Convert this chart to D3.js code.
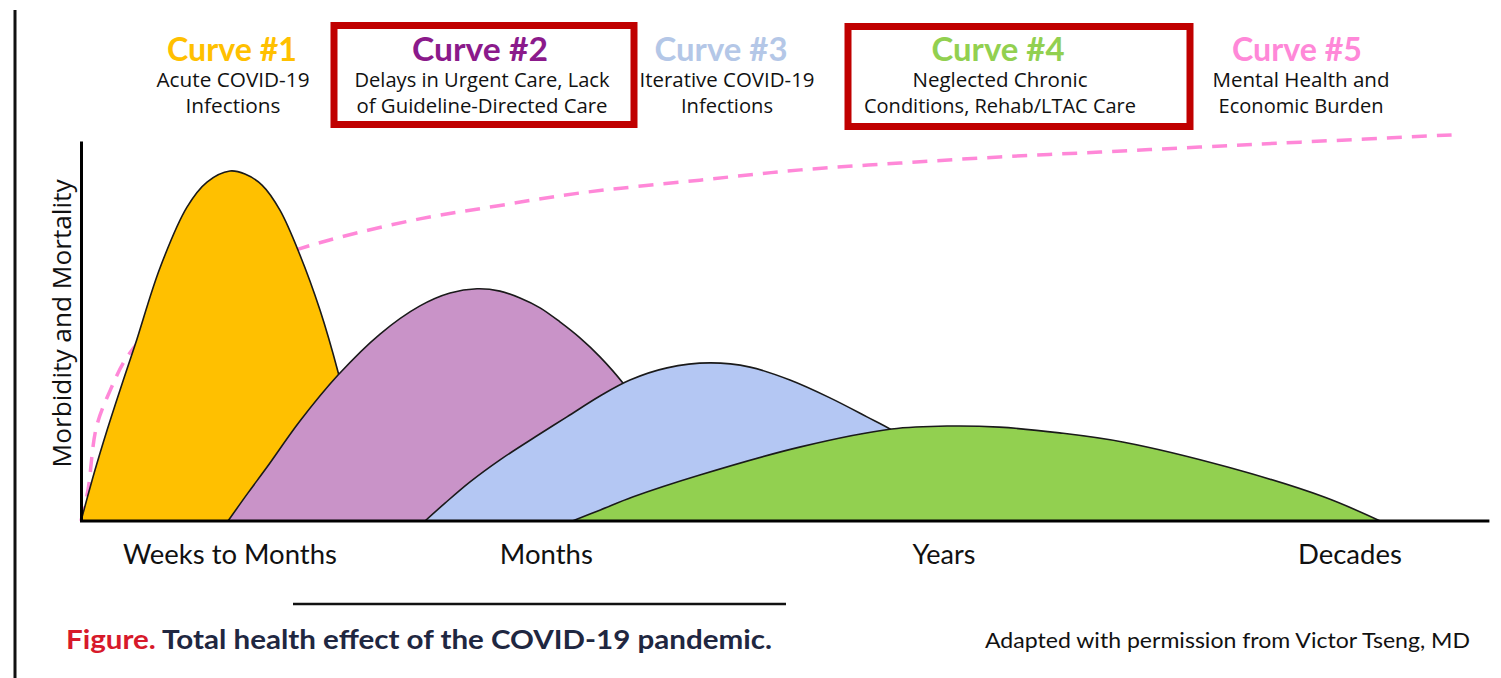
<!DOCTYPE html>
<html>
<head>
<meta charset="utf-8">
<script src="https://cdn.jsdelivr.net/npm/d3@7"></script>
<style>
  html, body { margin: 0; padding: 0; background: #fff; }
  svg { display: block; }
</style>
</head>
<body>
<svg id="chart" width="1501" height="678"></svg>
<script>
// ---------------- DATA ----------------
// x: relative time (0 = onset), y: relative morbidity & mortality (0..100)
const curve1 = [[0,0],[1.0,13.4],[1.86,23.9],[2.79,34.5],[3.86,46.3],[5.64,66.6],[7.57,82.6],[9.0,89.2],[10.64,92.1],[11.71,91.3],[12.93,88.4],[14.21,81.8],[15.64,70.0],[17.07,55.5],[18.36,39.2],[19.36,23.9],[20.36,8.2],[21.0,0]];
const curve2 = [[10.5,0],[11.93,7.4],[13.29,14.2],[15.64,26.3],[18.36,38.4],[21.36,49.2],[24.21,56.6],[26.36,60.0],[28.29,61.1],[29.93,60.5],[31.36,58.7],[32.79,56.1],[34.21,52.4],[35.64,48.2],[37.07,43.2],[38.71,36.3],[40.29,27.9],[41.71,17.4],[43.14,5.5],[43.71,0]];
const curve3 = [[24.57,0],[26.0,4.7],[27.79,10.3],[29.93,16.1],[32.43,22.1],[34.71,27.4],[37.07,32.9],[39.21,37.1],[41.86,40.3],[44.93,41.6],[47.79,40.5],[50.64,37.1],[53.5,32.4],[56.14,27.4],[57.93,23.9],[59.93,18.7],[62.07,12.1],[63.86,5.5],[65.29,0]];
const curve4 = [[35.1,0],[37.1,2.9],[39.4,6.3],[44.2,12.1],[51.4,19.5],[57.9,24.2],[62.1,25.0],[65.6,24.7],[69.9,23.2],[74.4,20.8],[81.9,14.2],[88.8,6.3],[92.8,0]];
const curve5 = [[0,0],[0.5,8.2],[1.1,24.7],[2.1,34.5],[3.3,43.2],[5.6,52.9],[8.5,60.8],[12.1,67.4],[15.3,71.3],[18.5,74.7],[24.2,79.5],[29.7,82.9],[35.6,86.3],[44.2,89.7],[51.4,92.4],[58.5,94.2],[65.6,95.8],[72.8,97.1],[79.9,98.4],[87.1,99.7],[97.9,101.6]];

const curveTitles = ["Curve #1", "Curve #2", "Curve #3", "Curve #4", "Curve #5"];
const curveDescriptions = [
  ["Acute COVID-19", "Infections"],
  ["Delays in Urgent Care, Lack", "of Guideline-Directed Care"],
  ["Iterative COVID-19", "Infections"],
  ["Neglected Chronic", "Conditions, Rehab/LTAC Care"],
  ["Mental Health and", "Economic Burden"]
];
const highlighted = [false, true, false, true, false];

const xTickLabels = ["Weeks to Months", "Months", "Years", "Decades"];
const xTickValues = [10.6, 33.2, 61.6, 90.6];
const yAxisLabel = "Morbidity and Mortality";
const captionLead = "Figure.";
const captionText = " Total health effect of the COVID-19 pandemic.";
const creditText = "Adapted with permission from Victor Tseng, MD";

// ---------------- STYLE / LAYOUT ----------------
const fills = ["#FFC000", "#C993C8", "#B4C7F3", "#92D050"];
const titleColors = ["#FFC000", "#8B1A8B", "#B4C7E7", "#92D050", "#FF88D8"];
const dashColor = "#FF88D8";
const boxColor = "#C00000";
const titleCenters = [232, 480, 721, 998, 1297];
const titleWidths = [130, 136, 133, 133, 130];
const subCenters = [233, 482, 727, 1000, 1301];
const subWidths = [[153, 95], [255, 251], [175, 92], [175, 272], [177, 165]];
const xLabelWidths = [214, 93, 63, 104];
const boxes = [[334, 25.5, 300, 99], [848, 26.5, 342, 100]];

const svg = d3.select("#chart");
const fit = (sel, w) => sel.attr("textLength", w).attr("lengthAdjust", "spacingAndGlyphs");

const x = d3.scaleLinear().domain([0, 100]).range([81, 1481]);
const y = d3.scaleLinear().domain([0, 100]).range([521, 141]);

// outer left rule
svg.append("line").attr("x1", 15).attr("x2", 15).attr("y1", 10).attr("y2", 678)
  .attr("stroke", "#111").attr("stroke-width", 3);

const curveType = d3.curveCatmullRom.alpha(0.5);
const lineGen = d3.line().x(d => x(d[0])).y(d => y(d[1])).curve(curveType);
const areaGen = d3.area().x(d => x(d[0])).y0(y(0)).y1(d => y(d[1])).curve(curveType);

// dashed curve #5 (behind)
svg.append("path").datum(curve5).attr("d", lineGen)
  .attr("fill", "none").attr("stroke", dashColor).attr("stroke-width", 3.5)
  .attr("stroke-dasharray", "15,10");

[curve1, curve2, curve3, curve4].forEach((c, i) => {
  svg.append("path").datum(c).attr("d", areaGen).attr("fill", fills[i]);
  svg.append("path").datum(c).attr("d", lineGen)
    .attr("fill", "none").attr("stroke", "#1a1a1a").attr("stroke-width", 1.6);
});

// axes
const xAxis = d3.axisBottom(x).tickValues(xTickValues)
  .tickFormat((d, i) => xTickLabels[i]).tickSize(0).tickPadding(25);
const gx = svg.append("g").attr("transform", `translate(0,${y(0)})`).call(xAxis);
gx.select(".domain").remove();
gx.selectAll("text").attr("font-family", "Lato, sans-serif").attr("font-size", 26).attr("fill", "#111")
  .each(function(d, i) { fit(d3.select(this), xLabelWidths[i]); });
svg.append("line").attr("x1", x(0) - 1).attr("x2", x(100.6)).attr("y1", y(0)).attr("y2", y(0))
  .attr("stroke", "#000").attr("stroke-width", 3);

const yAxis = d3.axisLeft(y).tickValues([]).tickSizeOuter(0);
const gy = svg.append("g").attr("transform", `translate(${x(0)},0)`).call(yAxis);
gy.select(".domain").attr("stroke", "#000").attr("stroke-width", 3);

fit(svg.append("text").attr("transform", `translate(71,${y(52)}) rotate(-90)`)
  .attr("text-anchor", "middle").attr("font-family", "'Open Sans', sans-serif")
  .attr("font-size", 26).attr("fill", "#111").text(yAxisLabel), 288);

// titles
curveTitles.forEach((t, i) => {
  fit(svg.append("text").attr("x", titleCenters[i]).attr("y", 61)
    .attr("text-anchor", "middle").attr("font-family", "Lato, sans-serif")
    .attr("font-weight", 700).attr("font-size", 32).attr("fill", titleColors[i]).text(t), titleWidths[i]);
  curveDescriptions[i].forEach((line, j) => {
    fit(svg.append("text").attr("x", subCenters[i]).attr("y", 87 + j * 26)
      .attr("text-anchor", "middle").attr("font-family", "'Open Sans', sans-serif")
      .attr("font-size", 20).attr("fill", "#111").text(line), subWidths[i][j]);
  });
});

// highlight boxes
highlighted.filter(Boolean).forEach((_, k) => {
  const b = boxes[k];
  svg.append("rect").attr("x", b[0]).attr("y", b[1]).attr("width", b[2]).attr("height", b[3])
    .attr("fill", "none").attr("stroke", boxColor).attr("stroke-width", 7);
});

// caption rule
svg.append("line").attr("x1", 293).attr("x2", 786).attr("y1", 604).attr("y2", 604)
  .attr("stroke", "#111").attr("stroke-width", 2.5);

const cap = fit(svg.append("text").attr("x", 66).attr("y", 649)
  .attr("font-family", "Lato, sans-serif").attr("font-weight", 700).attr("font-size", 27), 706);
cap.append("tspan").attr("fill", "#D7192A").text(captionLead);
cap.append("tspan").attr("fill", "#1F2741").text(captionText);

fit(svg.append("text").attr("x", 985).attr("y", 648)
  .attr("font-family", "Lato, sans-serif").attr("font-size", 21).attr("fill", "#111")
  .text(creditText), 485);
</script>
</body>
</html>
